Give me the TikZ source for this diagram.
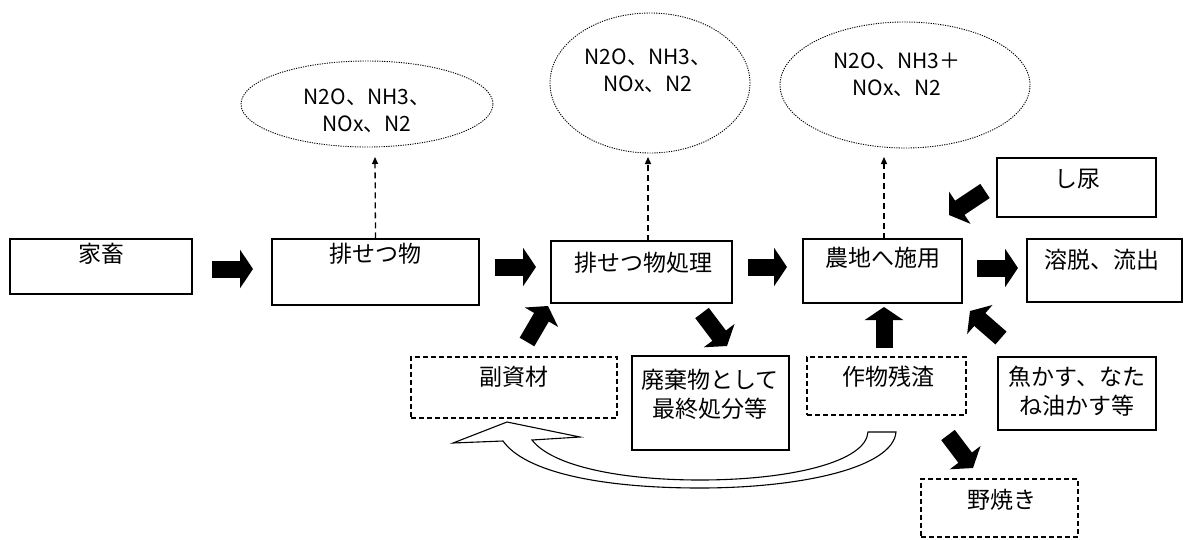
\documentclass[tikz,border=0pt]{standalone}
\usepackage{fontspec}
\setmainfont{Noto Sans CJK JP}
\usetikzlibrary{arrows.meta,shapes.geometric,calc}
\begin{document}
\begin{tikzpicture}[x=1pt,y=-1pt,
  box/.style={draw, line width=1.1pt, inner sep=0pt},
  dbox/.style={draw, line width=1.1pt, dash pattern=on 5pt off 3pt, inner sep=0pt},
  gas/.style={draw, ellipse, dash pattern=on 1.2pt off 1.2pt, line width=0.9pt, inner sep=0pt},
  lbl/.style={font=\fontsize{23}{29}\selectfont, align=center, inner sep=0pt},
  glbl/.style={font=\fontsize{21}{27}\selectfont, align=center, inner sep=0pt},
  blk/.style={line width=17pt, -{Triangle[length=13pt,width=38pt]}},
  emis/.style={line width=1.3pt, dash pattern=on 6pt off 4pt, -{Triangle[length=7pt,width=6pt]}},
]
\useasboundingbox (0,0) rectangle (1184,539);

% boxes
\node[box, minimum width=182pt, minimum height=55pt] (kachiku) at (101,266.5) {};
\node[box, minimum width=207pt, minimum height=66pt] (haisetsu) at (375.5,272) {};
\node[box, minimum width=181pt, minimum height=62pt] (shori) at (641.5,272) {};
\node[box, minimum width=159pt, minimum height=64pt] (nouchi) at (882.5,271) {};
\node[box, minimum width=155pt, minimum height=63pt] (youdatsu) at (1104.5,270.5) {};
\node[box, minimum width=159pt, minimum height=59pt] (shinyou) at (1076.5,187.5) {};
\node[dbox, minimum width=206pt, minimum height=61pt] (fuku) at (514,387.5) {};
\node[box, minimum width=157pt, minimum height=94pt] (haiki) at (710.5,403) {};
\node[dbox, minimum width=159pt, minimum height=58pt] (zansa) at (886.5,386) {};
\node[box, minimum width=158pt, minimum height=73pt] (gyokasu) at (1077,393.5) {};
\node[dbox, minimum width=157pt, minimum height=58pt] (noyaki) at (999.5,508) {};

% texts
\node[lbl] (t1) at (101,254) {家畜};
\node[lbl] (t2) at (375,254) {排せつ物};
\node[lbl] (t3) at (643,263) {排せつ物処理};
\node[lbl] (t4) at (883,258) {農地へ施用};
\node[lbl] (t5) at (1102,260) {溶脱、流出};
\node[lbl] (t6) at (1077,179) {し尿};
\node[lbl] (t7) at (514,377) {副資材};
\node[lbl] (t8) at (710,394) {廃棄物として\\最終処分等};
\node[lbl] (t9) at (888,377) {作物残渣};
\node[lbl] (t10) at (1077,391) {魚かす、なた\\ね油かす等};
\node[lbl] (t11) at (1002,500) {野焼き};

% emission ellipses
\node[gas, minimum width=252pt, minimum height=86pt] (e1) at (367,104) {};
\node[gas, minimum width=200pt, minimum height=140pt] (e2) at (650,83) {};
\node[gas, minimum width=250pt, minimum height=126pt] (e3) at (905,85) {};
\node[glbl] (g1) at (367,111) {N2O、NH3、\\NOx、N2};
\node[glbl] (g2) at (648,71) {N2O、NH3、\\NOx、N2};
\node[glbl] (g3) at (897,75) {N2O、NH3＋\\NOx、N2};

% dashed emission arrows
\coordinate (d1) at (375,157);
\coordinate (d2s) at (648,241);
\coordinate (d2) at (648,157);
\coordinate (d3s) at (884,239);
\coordinate (d3) at (884,157);
\draw[emis] (haisetsu.north) -- (d1);
\draw[emis] (d2s) -- (d2);
\draw[emis] (d3s) -- (d3);

% block arrows
\coordinate (a1s) at (212,269);  \coordinate (a1e) at (253,269);
\coordinate (a2s) at (495,267);  \coordinate (a2e) at (536,267);
\coordinate (a3s) at (748,267);  \coordinate (a3e) at (787,267);
\coordinate (a4s) at (977,268);  \coordinate (a4e) at (1018,268);
\coordinate (a5s) at (985,191);  \coordinate (a5e) at (949,215);
\coordinate (a6s) at (1001,338); \coordinate (a6e) at (970,311);
\coordinate (a7s) at (884,348);  \coordinate (a7e) at (884,307);
\coordinate (a8s) at (527,342);  \coordinate (a8e) at (548,306);
\coordinate (a9s) at (702,313);  \coordinate (a9e) at (727,346);
\coordinate (a10s) at (948,435); \coordinate (a10e) at (973,468);
\foreach \i in {1,...,10} \draw[blk] (a\i s) -- (a\i e);

% curved recycling arrow
\draw[line width=1.1pt, fill=white, line join=miter]
  (868,432) -- (896,432)
  .. controls (893,468) and (800,488) .. (700,488)
  .. controls (600,488) and (525,472) .. (503,441)
  -- (453,443) -- (507,422) -- (580,437) -- (532,440)
  .. controls (552,466) and (620,480) .. (700,480)
  .. controls (790,480) and (866,462) .. (868,432) -- cycle;
\end{tikzpicture}
\end{document}
